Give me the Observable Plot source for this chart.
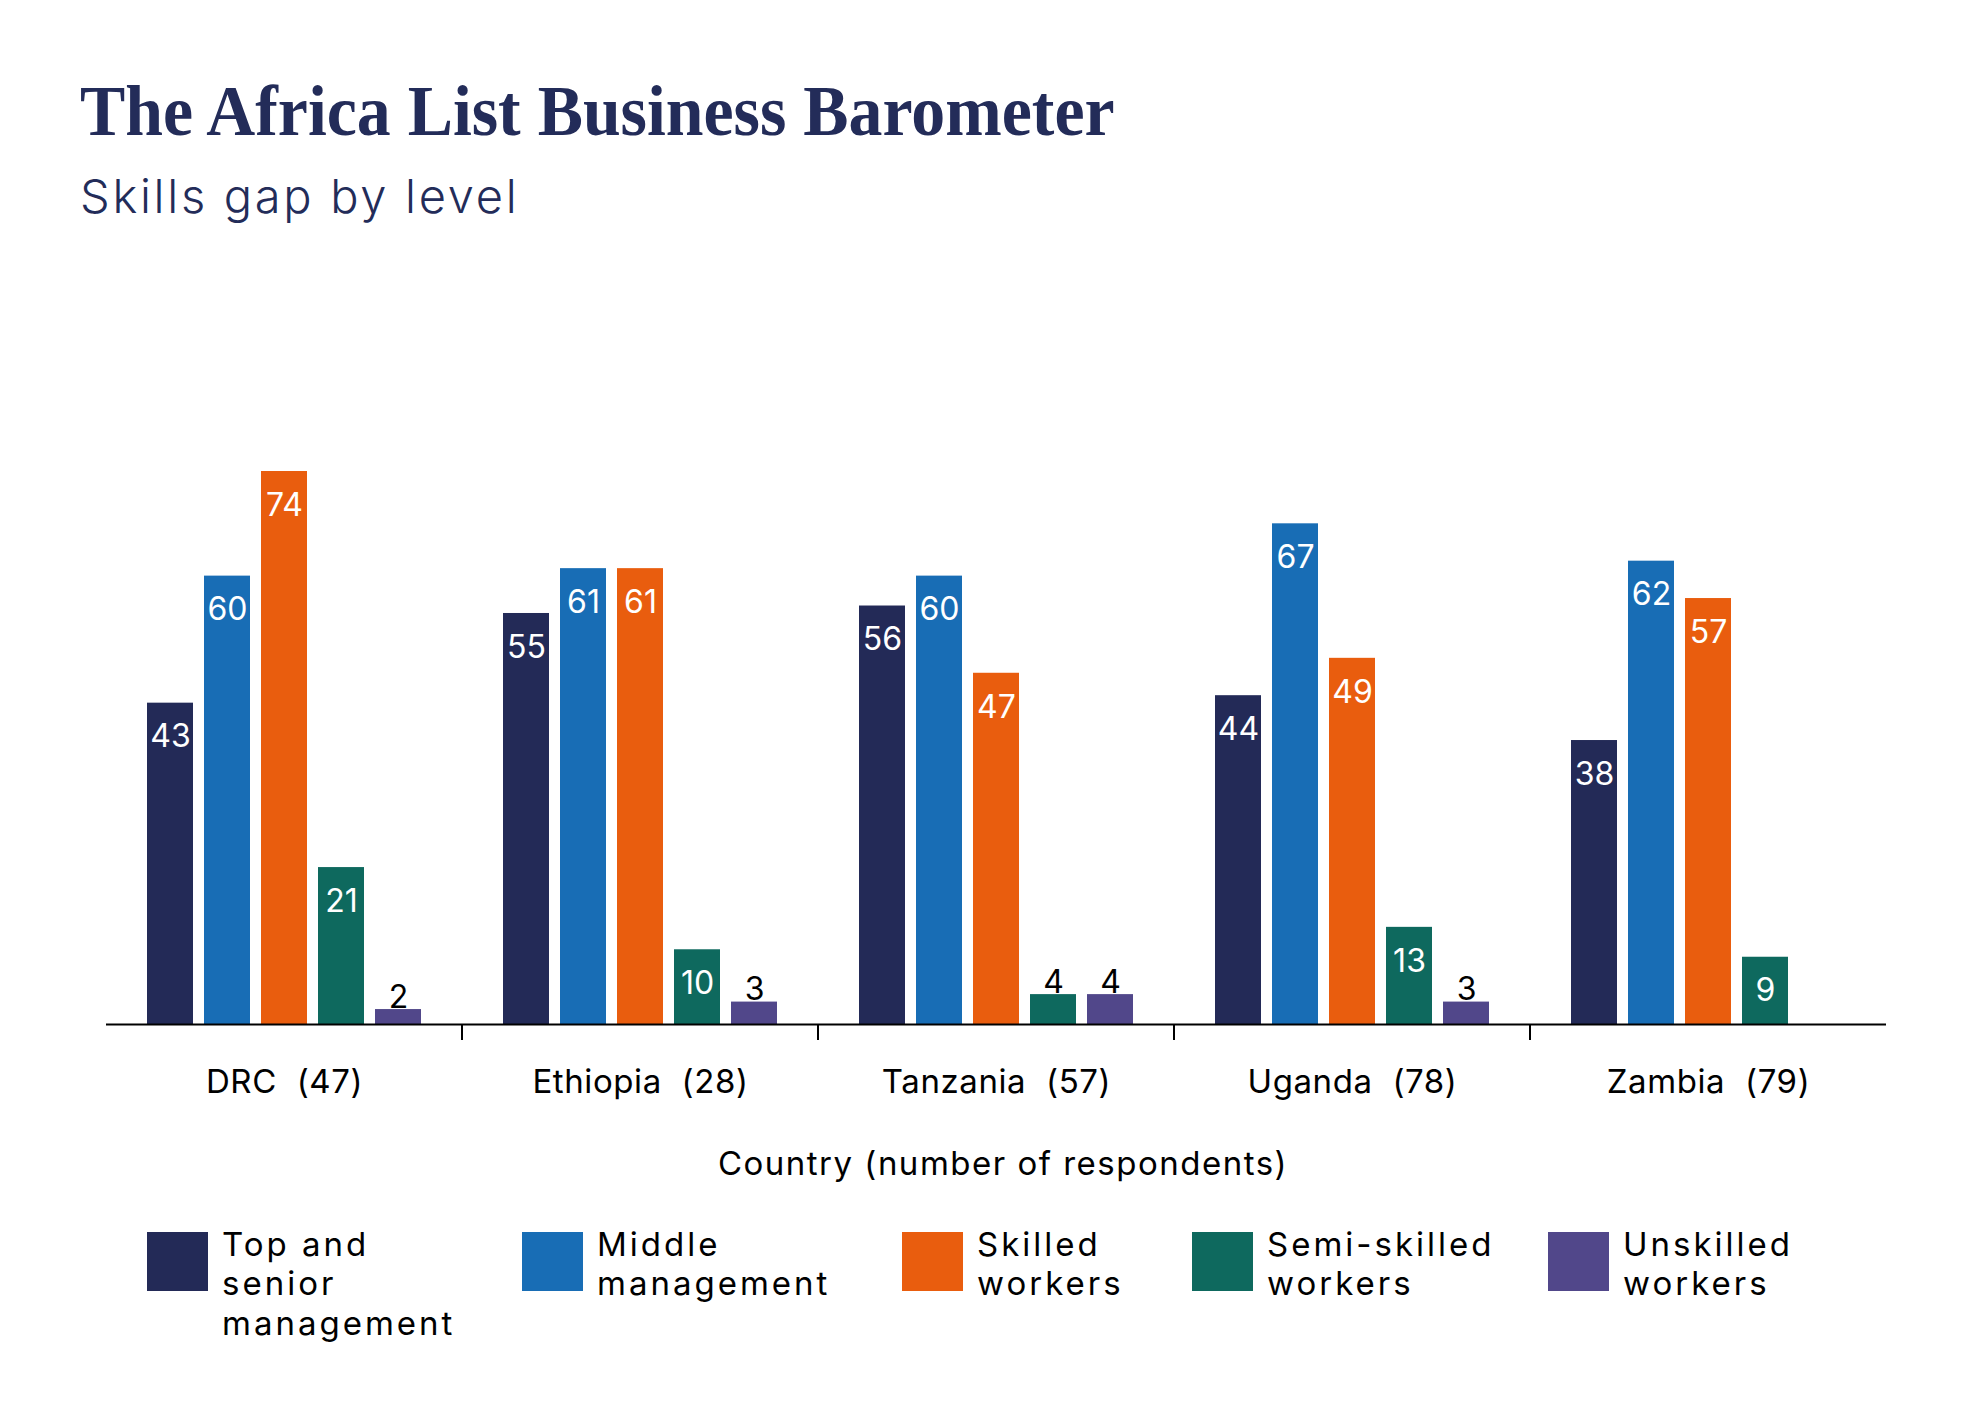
<!DOCTYPE html>
<html><head><meta charset="utf-8">
<script src="https://cdn.jsdelivr.net/npm/d3@7"></script>
<script src="https://cdn.jsdelivr.net/npm/@observablehq/plot@0.6"></script>
<style>
html,body{margin:0;padding:0;background:#fff;}
body{width:1986px;height:1418px;position:relative;overflow:hidden;font-family:Inter,sans-serif;}
#title{position:absolute;left:80px;top:76px;font-family:"Liberation Serif",serif;font-weight:700;font-size:71px;line-height:1;color:#232c59;white-space:nowrap;transform-origin:0 50%;transform:scaleX(0.955);}
#subtitle{position:absolute;left:80px;top:172px;font-family:Inter,sans-serif;font-weight:300;font-size:47px;line-height:1;color:#232c59;white-space:nowrap;letter-spacing:2.7px;}
#chart{position:absolute;left:0;top:380px;}
#chart svg text{white-space:pre;}
#xlabel{position:absolute;left:0;width:2006px;text-align:center;top:1147px;font-size:33px;line-height:1;color:#000;white-space:nowrap;letter-spacing:1.5px;}
.item{position:absolute;top:1232px;}
.sw{position:absolute;left:0;top:0;width:61px;height:59px;}
.lab{position:absolute;left:75px;top:-7.5px;font-size:33px;line-height:39.5px;color:#000;white-space:nowrap;letter-spacing:3px;}
</style></head>
<body>
<div id="title"></div>
<div id="subtitle"></div>
<div id="chart"></div>
<div id="xlabel"></div>
<div id="legend"></div>
<script>
const titleText = "The Africa List Business Barometer";
const subtitleText = "Skills gap by level";
const xLabelText = "Country (number of respondents)";

const countries = ["DRC", "Ethiopia", "Tanzania", "Uganda", "Zambia"];
const respondents = [47, 28, 57, 78, 79];
const levels = ["Top and senior management", "Middle management", "Skilled workers", "Semi-skilled workers", "Unskilled workers"];
const legendLines = [["Top and", "senior", "management"], ["Middle", "management"], ["Skilled", "workers"], ["Semi-skilled", "workers"], ["Unskilled", "workers"]];
const colors = ["#232a57", "#186db5", "#e95d0e", "#0e695e", "#51478a"];

const topSenior   = [43, 55, 56, 44, 38];
const middle      = [60, 61, 60, 67, 62];
const skilled     = [74, 61, 47, 49, 57];
const semiSkilled = [21, 10, 4, 13, 9];
const unskilled   = [2, 3, 4, 3, null];

const series = [topSenior, middle, skilled, semiSkilled, unskilled];
const rows = [];
countries.forEach((c, i) => levels.forEach((l, j) => {
  const v = series[j][i];
  if (v != null) rows.push({country: c, level: l, value: v});
}));
const countryLabel = new Map(countries.map((c, i) => [c, `${c}  (${respondents[i]})`]));

document.getElementById("title").textContent = titleText;
document.getElementById("subtitle").textContent = subtitleText;
document.getElementById("xlabel").textContent = xLabelText;

const legendLeft = [147, 522, 902, 1192, 1548];
const legend = document.getElementById("legend");
levels.forEach((l, j) => {
  const it = document.createElement("div");
  it.className = "item";
  it.style.left = legendLeft[j] + "px";
  const sw = document.createElement("div");
  sw.className = "sw"; sw.style.background = colors[j];
  const lab = document.createElement("div");
  lab.className = "lab";
  lab.innerHTML = legendLines[j].join("<br>");
  it.append(sw, lab);
  legend.append(it);
});

const chart = Plot.plot({
  width: 1986,
  height: 760,
  marginTop: 91,
  marginBottom: 116,
  marginLeft: 105,
  marginRight: 100,
  style: {fontFamily: "Inter, sans-serif", background: "transparent"},
  fx: {domain: countries, padding: 0, label: null},
  x: {domain: levels, paddingInner: 0.2, paddingOuter: 0.72, axis: null},
  y: {domain: [0, 74], axis: null},
  color: {domain: levels, range: colors},
  marks: [
    Plot.barY(rows, {fx: "country", x: "level", y: "value", fill: "level"}),
    Plot.text(rows.filter(d => d.value >= 5), {fx: "country", x: "level", y: "value", text: d => String(d.value), fill: "white", fontSize: 32, dy: 34}),
    Plot.text(rows.filter(d => d.value < 5), {fx: "country", x: "level", y: "value", text: d => String(d.value), fill: "black", fontSize: 32, dy: -12}),
    Plot.ruleY([0], {stroke: "black", strokeWidth: 2}),
    Plot.axisFx({anchor: "bottom", tickSize: 0, tickPadding: 45, fontSize: 33, fill: "black", tickFormat: c => countryLabel.get(c), label: null})
  ]
});
document.getElementById("chart").append(chart);
d3.select(chart).selectAll("g[aria-label='fx-axis tick label'] text").style("letter-spacing", "0.6px");

// boundary ticks between country groups, placed with the plot's own fx and y scales
const fxScale = chart.scale("fx");
const yScale = chart.scale("y");
const svg = d3.select(chart.tagName.toLowerCase() === "svg" ? chart : chart.querySelector("svg"));
const y0 = yScale.apply(0);
svg.append("g").selectAll("line").data(countries.slice(1)).join("line")
  .attr("x1", c => fxScale.apply(c)).attr("x2", c => fxScale.apply(c))
  .attr("y1", y0).attr("y2", y0 + 16)
  .attr("stroke", "black").attr("stroke-width", 2);
</script>
</body></html>
